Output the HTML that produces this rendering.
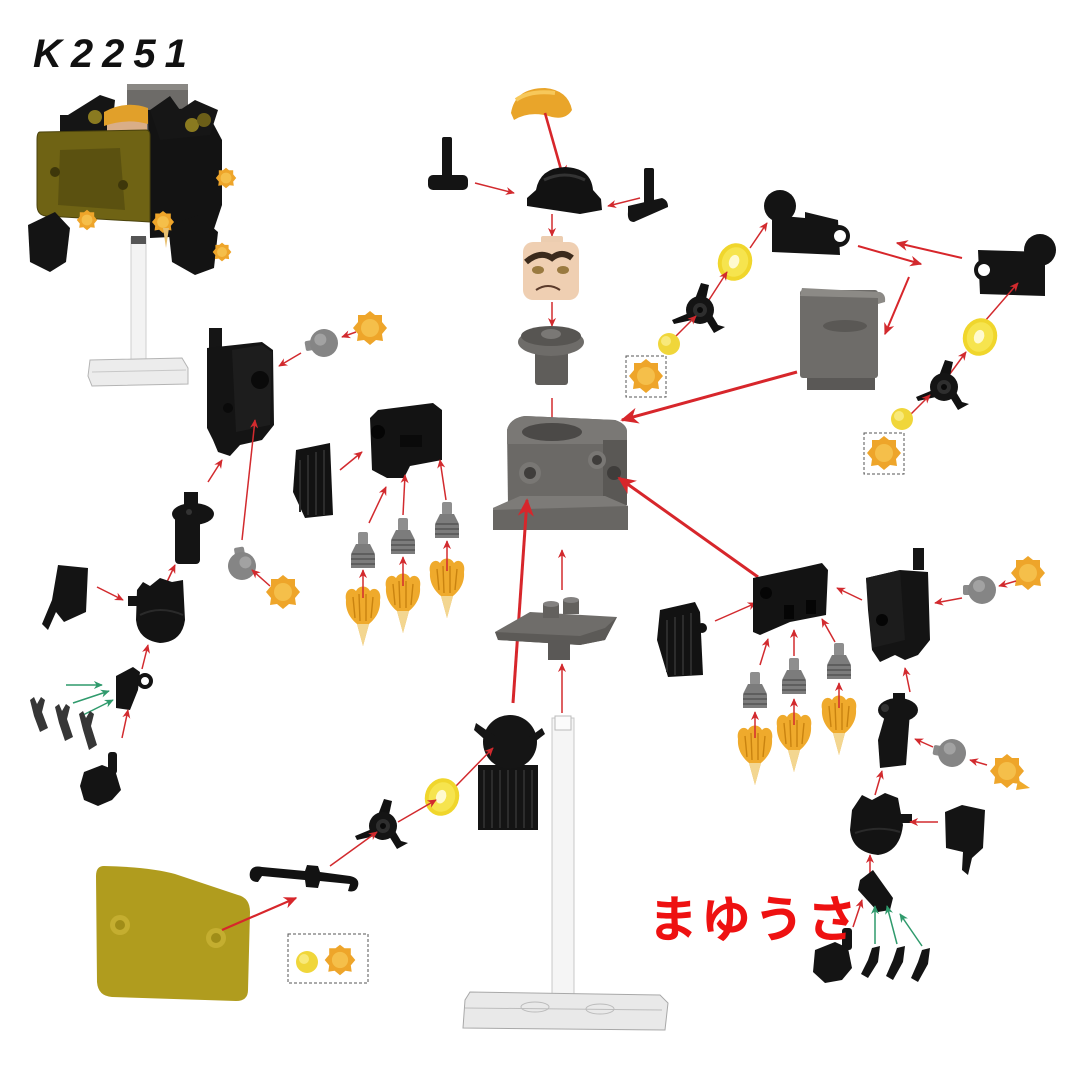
<!DOCTYPE html>
<html><head><meta charset="utf-8">
<style>
html,body{margin:0;padding:0;background:#fff;}
svg{display:block;}
</style></head><body>
<svg width="1080" height="1080" viewBox="0 0 1080 1080" xmlns="http://www.w3.org/2000/svg">
<defs>
 <marker id="ar" viewBox="0 0 10 10" refX="9" refY="5" markerWidth="6" markerHeight="6" orient="auto"><path d="M0,0.5 L10,5 L0,9.5 L3,5Z" fill="#d22a2e"/></marker>
 <marker id="arb" viewBox="0 0 10 10" refX="9" refY="5" markerWidth="6" markerHeight="6" orient="auto"><path d="M0,0.5 L10,5 L0,9.5 L3,5Z" fill="#d7262b"/></marker>
 <marker id="ag" viewBox="0 0 10 10" refX="9" refY="5" markerWidth="6" markerHeight="6" orient="auto"><path d="M0,0.5 L10,5 L0,9.5 L3,5Z" fill="#2f9a6c"/></marker>
 <g id="fl">
  <path d="M-17,12 C-19,2 -11,-2 -7,3 C-4,-3 4,-3 7,3 C11,-2 19,2 17,12 C18,24 11,32 6,36 L0,58 L-6,36 C-11,32 -18,24 -17,12Z" fill="#efaa2c"/>
  <path d="M-6,36 L0,58 L6,36Z" fill="#f3d690"/>
  <path d="M-10,9 L-8,30 M-4,6 L-3,33 M3,6 L3,33 M10,9 L8,30" stroke="#c98310" stroke-width="1.4" fill="none"/>
 </g>
 <g id="sf">
  <path d="M0,-17 L5,-13 L12,-13 L12,-6 L17,0 L12,6 L13,13 L6,12 L0,17 L-6,12 L-13,13 L-12,6 L-17,0 L-12,-6 L-12,-13 L-5,-13Z" fill="#eea52a"/>
  <circle r="9" fill="#f5bf4a"/>
 </g>
 <g id="nz">
  <rect x="-5" y="0" width="10" height="13" rx="2" fill="#8e8e8e"/>
  <path d="M-7,12 L7,12 L12,22 L12,36 L-12,36 L-12,22Z" fill="#7c7c7c"/>
  <path d="M-11,22 L11,22 M-12,27 L12,27 M-12,32 L12,32" stroke="#555" stroke-width="1.5"/>
 </g>
 <g id="kn">
  <rect x="-19" y="-5" width="10" height="10" rx="2" fill="#8a8a8a"/>
  <circle r="14" fill="#858585"/>
  <circle cx="-3" cy="-4" r="6" fill="#a2a2a2"/>
 </g>
 <g id="pr">
  <path d="M-5,-11 L1,-27 L9,-25 L6,-11Z" fill="#111"/>
  <path d="M-11,3 L-28,10 L-26,14 L-8,10Z" fill="#111"/>
  <path d="M6,10 L14,23 L25,17 L18,15 L12,5Z" fill="#111"/>
  <circle r="14" fill="#141414"/>
  <circle r="7" fill="#2e2e2e"/><circle r="3" fill="#0a0a0a"/>
 </g>
 <g id="yr">
  <ellipse rx="17" ry="19" fill="#f0d62c"/>
  <ellipse rx="13" ry="15" fill="#f6e44e"/>
  <ellipse cx="-1" rx="5" ry="7" fill="#fffad0"/>
 </g>
 <g id="yd"><circle r="11" fill="#f0d63a"/><circle cx="-3" cy="-3" r="5" fill="#f8e97a"/></g>
</defs>

<!-- Title -->
<text x="33" y="67" font-family="Liberation Sans, sans-serif" font-size="40" font-weight="bold" font-style="italic" letter-spacing="9" fill="#111">K2251</text>

<!-- ===== Assembled figure top-left ===== -->
<rect x="127" y="84" width="61" height="70" fill="#6d6b68"/>
<rect x="127" y="84" width="61" height="6" fill="#8a8884"/>
<path d="M148,110 L205,108 L222,140 L222,205 L212,235 L150,238 Z" fill="#131313"/>
<path d="M60,120 L100,95 L115,100 L112,130 L70,140Z" fill="#151515"/>
<rect x="60" y="115" width="8" height="20" fill="#151515"/>
<path d="M150,110 L170,96 L180,110 L195,100 L218,110 L210,135 L160,140Z" fill="#161616"/>
<circle cx="95" cy="117" r="7" fill="#8a7a20"/>
<circle cx="192" cy="125" r="7" fill="#8a7a20"/>
<circle cx="204" cy="120" r="7" fill="#6b5e18"/>
<!-- head -->
<rect x="107" y="110" width="40" height="44" rx="8" fill="#d9ae88"/>
<path d="M104,112 Q125,100 148,108 L148,124 Q126,118 104,126Z" fill="#e1a02a"/>
<circle cx="118" cy="134" r="2" fill="#222"/><circle cx="134" cy="134" r="2" fill="#222"/>
<!-- shield -->
<path d="M40,132 L146,130 Q150,130 150,136 L150,222 L46,216 Q37,215 37,205 L37,140 Q37,132 40,132Z" fill="#6f6314" stroke="#4a420c" stroke-width="1"/>
<path d="M60,150 L120,148 L125,210 L58,205Z" fill="#4f460e" opacity="0.6"/>
<circle cx="55" cy="172" r="5" fill="#3e370a"/><circle cx="123" cy="185" r="5" fill="#3e370a"/>
<!-- arms -->
<path d="M28,225 L55,212 L70,228 L66,262 L50,272 L30,262Z" fill="#141414"/>
<path d="M168,225 L198,215 L218,232 L214,268 L195,275 L172,262Z" fill="#131313"/>
<use href="#sf" transform="translate(226,178) scale(0.6)"/>
<use href="#sf" transform="translate(87,220) scale(0.6)"/>
<use href="#sf" transform="translate(163,222) scale(0.65)"/>
<use href="#sf" transform="translate(222,252) scale(0.55)"/>
<path d="M163,228 L166,248 L169,228Z" fill="#e8c070"/>
<!-- stand -->
<rect x="131" y="238" width="15" height="124" fill="#f3f3f3" stroke="#cfcfcf"/>
<rect x="131" y="236" width="15" height="8" fill="#555"/>
<path d="M90,360 L182,358 L188,368 L188,384 L92,386 L88,376Z" fill="#ececec" stroke="#b4b4b4"/>
<path d="M92,372 L186,370" stroke="#c8c8c8"/>

<!-- ===== Top center ===== -->
<path d="M511,113 Q515,88 545,88 Q568,90 572,110 Q566,120 552,117 Q530,110 514,120Z" fill="#e9a52a"/>
<path d="M516,100 Q530,90 555,93" stroke="#f7c85a" stroke-width="4" fill="none"/>
<line x1="545" y1="113" x2="564" y2="180" stroke="#d7262b" stroke-width="2.6" marker-end="url(#arb)"/>
<!-- helmet -->
<path d="M527,198 L536,190 Q540,168 565,167 Q591,168 593,190 L601,199 L602,210 L580,214 L540,208 L527,206Z" fill="#121212"/>
<path d="M544,180 Q565,170 585,180" stroke="#333" stroke-width="3" fill="none"/>
<!-- left gun -->
<rect x="442" y="137" width="10" height="40" rx="2" fill="#141414"/>
<rect x="428" y="175" width="40" height="15" rx="5" fill="#141414"/>
<line x1="475" y1="183" x2="514" y2="193" stroke="#d22a2e" stroke-width="1.5" marker-end="url(#ar)"/>
<!-- right gun -->
<rect x="644" y="168" width="10" height="36" rx="2" fill="#141414"/>
<path d="M628,206 L662,198 Q668,200 668,207 L634,222 Q627,222 628,212Z" fill="#141414"/>
<line x1="640" y1="198" x2="608" y2="206" stroke="#d22a2e" stroke-width="1.5" marker-end="url(#ar)"/>
<line x1="552" y1="214" x2="552" y2="236" stroke="#d22a2e" stroke-width="1.5" marker-end="url(#ar)"/>
<!-- head -->
<rect x="541" y="236" width="22" height="8" rx="2" fill="#eccdb0"/>
<rect x="523" y="242" width="56" height="58" rx="10" fill="#efcfb2"/>
<path d="M526,262 Q540,250 552,258 Q562,250 572,258" stroke="#3b2a1c" stroke-width="6" fill="none"/>
<ellipse cx="538" cy="270" rx="6" ry="4" fill="#9a7a40"/><ellipse cx="563" cy="270" rx="6" ry="4" fill="#9a7a40"/>
<path d="M536,290 Q548,282 560,290" stroke="#5a3a2a" stroke-width="2" fill="none"/>
<line x1="552" y1="302" x2="552" y2="326" stroke="#d22a2e" stroke-width="1.5" marker-end="url(#ar)"/>
<!-- neck bracket -->
<rect x="535" y="345" width="33" height="40" rx="3" fill="#5f5d5a"/>
<ellipse cx="551" cy="342" rx="33" ry="14" fill="#6e6c69"/>
<ellipse cx="551" cy="336" rx="30" ry="10" fill="#575552"/>
<ellipse cx="551" cy="334" rx="10" ry="5" fill="#7a7875"/>
<line x1="552" y1="398" x2="552" y2="427" stroke="#d22a2e" stroke-width="1.5" marker-end="url(#ar)"/>

<!-- toilet -->
<path d="M507,430 Q510,418 525,416 L615,420 Q627,424 627,432 L627,505 L508,505Z" fill="#6b6966"/>
<path d="M507,430 Q510,418 525,416 L615,420 Q627,424 627,432 L627,444 L507,444Z" fill="#7a7875"/>
<ellipse cx="552" cy="432" rx="30" ry="9" fill="#4b4947"/>
<rect x="603" y="440" width="24" height="65" fill="#5a5855"/>
<path d="M493,508 L520,496 L605,496 L628,506 L628,530 L493,530Z" fill="#686663"/>
<path d="M493,508 L520,496 L605,496 L628,506 L493,510Z" fill="#7d7b78"/>
<circle cx="530" cy="473" r="11" fill="#797774"/><circle cx="530" cy="473" r="6" fill="#3f3d3b"/>
<circle cx="597" cy="460" r="9" fill="#797774"/><circle cx="597" cy="460" r="5" fill="#3f3d3b"/>
<circle cx="614" cy="473" r="7" fill="#3f3d3b"/>
<line x1="797" y1="372" x2="622" y2="420" stroke="#d7262b" stroke-width="3" marker-end="url(#arb)"/>
<line x1="758" y1="577" x2="619" y2="478" stroke="#d7262b" stroke-width="3" marker-end="url(#arb)"/>
<line x1="513" y1="703" x2="527" y2="500" stroke="#d7262b" stroke-width="3" marker-end="url(#arb)"/>
<line x1="562" y1="590" x2="562" y2="550" stroke="#d22a2e" stroke-width="1.5" marker-end="url(#ar)"/>

<!-- plate -->
<path d="M495,632 L530,612 L617,617 L605,640 L580,645 L498,640Z" fill="#6f6d6a"/>
<path d="M495,632 L498,640 L580,645 L605,640 L617,617 L605,628 L580,636Z" fill="#5c5a57"/>
<rect x="548" y="640" width="22" height="20" fill="#5a5856"/>
<rect x="543" y="604" width="16" height="14" fill="#63615e"/><ellipse cx="551" cy="604" rx="8" ry="3" fill="#838180"/>
<rect x="563" y="600" width="16" height="14" fill="#63615e"/><ellipse cx="571" cy="600" rx="8" ry="3" fill="#838180"/>
<line x1="562" y1="713" x2="562" y2="664" stroke="#d22a2e" stroke-width="1.5" marker-end="url(#ar)"/>

<!-- stand center -->
<rect x="552" y="718" width="22" height="296" fill="#f5f5f5" stroke="#c8c8c8"/>
<rect x="555" y="716" width="16" height="14" fill="#fbfbfb" stroke="#bbb"/>
<path d="M465,1000 L470,992 L660,995 L668,1003 L665,1030 L463,1028Z" fill="#e9e9e9" stroke="#a8a8a8"/>
<path d="M465,1008 L662,1010" stroke="#bdbdbd"/>
<ellipse cx="535" cy="1007" rx="14" ry="5" fill="none" stroke="#bbb"/>
<ellipse cx="600" cy="1009" rx="14" ry="5" fill="none" stroke="#bbb"/>

<!-- back piece -->
<rect x="478" y="765" width="60" height="65" fill="#141414"/>
<path d="M484,770 L484,828 M492,770 L492,828 M500,770 L500,828 M508,770 L508,828 M516,770 L516,828 M524,770 L524,828 M532,770 L532,828" stroke="#2c2c2c" stroke-width="2"/>
<circle cx="510" cy="742" r="27" fill="#151515"/>
<path d="M476,723 L498,738 L492,746 L474,730Z" fill="#151515"/>
<path d="M528,738 L542,728 L545,734 L532,744Z" fill="#151515"/>
<line x1="456" y1="786" x2="493" y2="748" stroke="#d22a2e" stroke-width="1.5" marker-end="url(#ar)"/>
<use href="#yr" transform="translate(442,797) rotate(20)"/>
<line x1="398" y1="822" x2="436" y2="800" stroke="#d22a2e" stroke-width="1.5" marker-end="url(#ar)"/>
<use href="#pr" transform="translate(383,826)"/>
<line x1="330" y1="866" x2="377" y2="832" stroke="#d22a2e" stroke-width="1.5" marker-end="url(#ar)"/>
<!-- bar -->
<path d="M250,872 Q252,865 262,867 L305,871 L307,865 L318,866 L320,872 L350,876 Q360,878 358,886 Q356,893 348,891 L350,884 L320,881 L318,888 L306,887 L305,880 L262,876 L258,882 Q248,882 250,872Z" fill="#121212"/>
<!-- yellow shield -->
<path d="M104,866 Q96,866 96,876 L97,982 Q98,996 112,997 L236,1001 Q248,1001 248,990 L250,912 Q250,898 238,895 L175,874 Q150,867 104,866Z" fill="#b09c1e"/>
<circle cx="120" cy="925" r="10" fill="#c4ae30"/><circle cx="120" cy="925" r="5" fill="#a08d18"/>
<circle cx="216" cy="938" r="10" fill="#c4ae30"/><circle cx="216" cy="938" r="5" fill="#a08d18"/>
<line x1="222" y1="930" x2="296" y2="898" stroke="#d7262b" stroke-width="2.2" marker-end="url(#arb)"/>
<!-- dashed box -->
<rect x="288" y="934" width="80" height="49" fill="none" stroke="#555" stroke-width="1" stroke-dasharray="3,2"/>
<use href="#yd" transform="translate(307,962)"/>
<use href="#sf" transform="translate(340,960) scale(0.9)"/>

<!-- ===== Right top ===== -->
<circle cx="780" cy="206" r="16" fill="#141414"/>
<path d="M772,215 L805,218 L805,212 L838,220 L840,255 L772,252Z" fill="#141414"/>
<circle cx="839" cy="236" r="11" fill="#141414"/><circle cx="840" cy="236" r="6" fill="#fff"/>
<line x1="750" y1="248" x2="767" y2="223" stroke="#d22a2e" stroke-width="1.5" marker-end="url(#ar)"/>
<use href="#yr" transform="translate(735,262) rotate(20)"/>
<line x1="707" y1="303" x2="727" y2="272" stroke="#d22a2e" stroke-width="1.5" marker-end="url(#ar)"/>
<use href="#pr" transform="translate(700,310)"/>
<line x1="674" y1="338" x2="696" y2="316" stroke="#d22a2e" stroke-width="1.5" marker-end="url(#ar)"/>
<use href="#yd" transform="translate(669,344)"/>
<rect x="626" y="356" width="40" height="41" fill="none" stroke="#555" stroke-width="1" stroke-dasharray="3,2"/>
<use href="#sf" transform="translate(646,376)"/>
<line x1="858" y1="246" x2="921" y2="264" stroke="#d7262b" stroke-width="2" marker-end="url(#ar)"/>
<line x1="962" y1="258" x2="897" y2="243" stroke="#d7262b" stroke-width="2" marker-end="url(#ar)"/>
<line x1="909" y1="277" x2="885" y2="334" stroke="#d7262b" stroke-width="2" marker-end="url(#ar)"/>
<circle cx="1040" cy="250" r="16" fill="#141414"/>
<path d="M978,250 L1045,252 L1045,296 L980,294Z" fill="#141414"/>
<circle cx="985" cy="270" r="11" fill="#141414"/><circle cx="984" cy="270" r="6" fill="#fff"/>
<line x1="985" y1="321" x2="1018" y2="283" stroke="#d22a2e" stroke-width="1.5" marker-end="url(#ar)"/>
<use href="#yr" transform="translate(980,337) rotate(20)"/>
<line x1="944" y1="382" x2="966" y2="352" stroke="#d22a2e" stroke-width="1.5" marker-end="url(#ar)"/>
<use href="#pr" transform="translate(944,387)"/>
<line x1="907" y1="418" x2="930" y2="395" stroke="#d22a2e" stroke-width="1.5" marker-end="url(#ar)"/>
<use href="#yd" transform="translate(902,419)"/>
<rect x="864" y="433" width="40" height="41" fill="none" stroke="#555" stroke-width="1" stroke-dasharray="3,2"/>
<use href="#sf" transform="translate(884,453)"/>
<rect x="807" y="375" width="68" height="15" fill="#5a5856"/>
<rect x="800" y="290" width="78" height="88" rx="3" fill="#6e6c69"/>
<path d="M802,288 L880,292 Q886,294 885,302 L878,304 L878,298 L800,296Z" fill="#8c8a86"/>
<ellipse cx="845" cy="326" rx="22" ry="6" fill="#5a5855"/>

<!-- ===== Left arm ===== -->
<use href="#sf" transform="translate(370,328)"/>
<line x1="356" y1="332" x2="342" y2="337" stroke="#d22a2e" stroke-width="1.5" marker-end="url(#ar)"/>
<use href="#kn" transform="translate(324,343) rotate(-10)"/>
<line x1="301" y1="353" x2="279" y2="366" stroke="#d22a2e" stroke-width="1.5" marker-end="url(#ar)"/>
<rect x="209" y="328" width="13" height="24" fill="#151515"/>
<path d="M207,348 L235,345 L262,342 L273,350 L274,425 L262,440 L240,445 L230,456 L218,452 L213,440 L207,428Z" fill="#141414"/>
<path d="M232,350 L262,345 L272,352 L270,425 L236,432Z" fill="#1d1d1d"/>
<circle cx="260" cy="380" r="9" fill="#0a0a0a"/>
<circle cx="228" cy="408" r="5" fill="#0a0a0a"/>
<line x1="242" y1="540" x2="255" y2="420" stroke="#d22a2e" stroke-width="1.5" marker-end="url(#ar)"/>
<use href="#kn" transform="translate(242,566) rotate(80)"/>
<use href="#sf" transform="translate(283,592)"/>
<line x1="270" y1="586" x2="252" y2="570" stroke="#d22a2e" stroke-width="1.5" marker-end="url(#ar)"/>
<rect x="184" y="492" width="14" height="14" fill="#141414"/>
<ellipse cx="193" cy="514" rx="21" ry="11" fill="#141414"/>
<rect x="175" y="514" width="25" height="50" rx="4" fill="#141414"/>
<circle cx="189" cy="512" r="3" fill="#333"/>
<line x1="208" y1="482" x2="222" y2="460" stroke="#d22a2e" stroke-width="1.5" marker-end="url(#ar)"/>
<line x1="166" y1="584" x2="175" y2="565" stroke="#d22a2e" stroke-width="1.5" marker-end="url(#ar)"/>
<rect x="128" y="596" width="12" height="10" fill="#141414"/>
<path d="M137,590 L143,582 L150,586 L160,578 L172,582 L183,580 L185,620 Q182,642 160,643 Q138,640 136,620Z" fill="#131313"/>
<path d="M140,615 Q160,605 183,615" stroke="#2a2a2a" stroke-width="2" fill="none"/>
<path d="M58,565 L88,568 L86,612 L64,622 L56,612 L48,630 L42,624 L52,600Z" fill="#141414"/>
<line x1="97" y1="587" x2="123" y2="600" stroke="#d22a2e" stroke-width="1.5" marker-end="url(#ar)"/>
<line x1="142" y1="669" x2="148" y2="645" stroke="#d22a2e" stroke-width="1.5" marker-end="url(#ar)"/>
<path d="M116,676 L133,667 L140,672 L138,690 L130,710 L116,708Z" fill="#131313"/>
<circle cx="145" cy="681" r="6" fill="none" stroke="#131313" stroke-width="4"/>
<line x1="66" y1="685" x2="102" y2="685" stroke="#2f9a6c" stroke-width="1.5" marker-end="url(#ag)"/>
<line x1="73" y1="703" x2="109" y2="691" stroke="#2f9a6c" stroke-width="1.5" marker-end="url(#ag)"/>
<line x1="83" y1="715" x2="113" y2="700" stroke="#2f9a6c" stroke-width="1.5" marker-end="url(#ag)"/>
<g fill="#363636">
 <path d="M30,700 L34,697 L37,704 L41,697 L45,700 L42,712 L48,728 L40,732 L34,716Z"/>
 <path d="M55,707 L59,704 L62,711 L66,704 L70,707 L67,719 L73,737 L65,741 L59,723Z"/>
 <path d="M79,714 L83,711 L86,718 L90,711 L94,714 L91,726 L97,745 L89,750 L83,730Z"/>
</g>
<line x1="122" y1="738" x2="128" y2="710" stroke="#d22a2e" stroke-width="1.5" marker-end="url(#ar)"/>
<rect x="108" y="752" width="9" height="22" rx="3" fill="#141414"/>
<path d="M84,772 L102,765 L115,770 L121,790 L112,800 L98,806 L84,800 L80,786Z" fill="#141414"/>
<path d="M296,450 L330,443 L333,515 L305,518 L293,492Z" fill="#121212"/>
<path d="M300,460 L300,512 M308,455 L308,515 M316,452 L316,515 M324,450 L324,515" stroke="#2c2c2c" stroke-width="2"/>
<line x1="340" y1="470" x2="362" y2="452" stroke="#d22a2e" stroke-width="1.5" marker-end="url(#ar)"/>
<path d="M370,418 L378,410 L433,403 L442,410 L442,460 L410,466 L404,478 L387,478 L372,470Z" fill="#131313"/>
<circle cx="378" cy="432" r="7" fill="#050505"/>
<rect x="400" y="435" width="22" height="12" fill="#0a0a0a"/>
<use href="#nz" transform="translate(363,532)"/>
<use href="#nz" transform="translate(403,518)"/>
<use href="#nz" transform="translate(447,502)"/>
<line x1="369" y1="523" x2="386" y2="487" stroke="#d22a2e" stroke-width="1.5" marker-end="url(#ar)"/>
<line x1="403" y1="515" x2="405" y2="475" stroke="#d22a2e" stroke-width="1.5" marker-end="url(#ar)"/>
<line x1="446" y1="500" x2="440" y2="460" stroke="#d22a2e" stroke-width="1.5" marker-end="url(#ar)"/>
<use href="#fl" transform="translate(363,588)"/>
<use href="#fl" transform="translate(403,575)"/>
<use href="#fl" transform="translate(447,560)"/>
<line x1="363" y1="598" x2="363" y2="570" stroke="#d22a2e" stroke-width="1.5" marker-end="url(#ar)"/>
<line x1="403" y1="586" x2="403" y2="557" stroke="#d22a2e" stroke-width="1.5" marker-end="url(#ar)"/>
<line x1="447" y1="571" x2="447" y2="541" stroke="#d22a2e" stroke-width="1.5" marker-end="url(#ar)"/>

<!-- ===== Right arm ===== -->
<path d="M660,610 L695,602 L700,612 L703,675 L668,677 L657,640Z" fill="#121212"/>
<circle cx="702" cy="628" r="5" fill="#121212"/>
<path d="M667,620 L667,672 M675,617 L675,675 M683,615 L683,675 M691,613 L691,675" stroke="#2c2c2c" stroke-width="2"/>
<line x1="715" y1="621" x2="756" y2="603" stroke="#d22a2e" stroke-width="1.5" marker-end="url(#ar)"/>
<path d="M753,578 L800,568 L822,563 L828,570 L826,615 L790,622 L760,635 L753,632Z" fill="#131313"/>
<circle cx="766" cy="593" r="6" fill="#050505"/>
<rect x="784" y="605" width="10" height="14" fill="#050505"/><rect x="806" y="600" width="10" height="14" fill="#050505"/>
<use href="#nz" transform="translate(755,672)"/>
<use href="#nz" transform="translate(794,658)"/>
<use href="#nz" transform="translate(839,643)"/>
<line x1="760" y1="665" x2="768" y2="639" stroke="#d22a2e" stroke-width="1.5" marker-end="url(#ar)"/>
<line x1="794" y1="656" x2="794" y2="630" stroke="#d22a2e" stroke-width="1.5" marker-end="url(#ar)"/>
<line x1="835" y1="642" x2="822" y2="619" stroke="#d22a2e" stroke-width="1.5" marker-end="url(#ar)"/>
<use href="#fl" transform="translate(755,727)"/>
<use href="#fl" transform="translate(794,714)"/>
<use href="#fl" transform="translate(839,697)"/>
<line x1="755" y1="738" x2="755" y2="712" stroke="#d22a2e" stroke-width="1.5" marker-end="url(#ar)"/>
<line x1="794" y1="725" x2="794" y2="699" stroke="#d22a2e" stroke-width="1.5" marker-end="url(#ar)"/>
<line x1="839" y1="708" x2="839" y2="683" stroke="#d22a2e" stroke-width="1.5" marker-end="url(#ar)"/>
<line x1="862" y1="600" x2="837" y2="588" stroke="#d22a2e" stroke-width="1.5" marker-end="url(#ar)"/>
<rect x="913" y="548" width="11" height="22" fill="#151515"/>
<path d="M866,578 L900,570 L928,572 L930,640 L918,655 L905,660 L895,655 L880,662 L872,650 L868,610Z" fill="#141414"/>
<path d="M866,578 L900,570 L905,640 L872,648Z" fill="#1c1c1c"/>
<circle cx="882" cy="620" r="6" fill="#050505"/>
<use href="#kn" transform="translate(982,590)"/>
<use href="#sf" transform="translate(1028,573)"/>
<line x1="1016" y1="581" x2="999" y2="586" stroke="#d22a2e" stroke-width="1.5" marker-end="url(#ar)"/>
<line x1="962" y1="598" x2="935" y2="603" stroke="#d22a2e" stroke-width="1.5" marker-end="url(#ar)"/>
<line x1="910" y1="692" x2="905" y2="668" stroke="#d22a2e" stroke-width="1.5" marker-end="url(#ar)"/>
<ellipse cx="898" cy="710" rx="20" ry="12" fill="#141414"/>
<rect x="893" y="693" width="12" height="12" fill="#141414"/>
<path d="M886,712 L910,712 L906,765 L880,768 L878,740Z" fill="#141414"/>
<circle cx="885" cy="708" r="4" fill="#333"/>
<use href="#kn" transform="translate(952,753) rotate(10)"/>
<use href="#sf" transform="translate(1007,771)"/>
<path d="M1018,780 L1030,788 L1016,790Z" fill="#efaa2c"/>
<line x1="987" y1="765" x2="970" y2="760" stroke="#d22a2e" stroke-width="1.5" marker-end="url(#ar)"/>
<line x1="933" y1="747" x2="915" y2="739" stroke="#d22a2e" stroke-width="1.5" marker-end="url(#ar)"/>
<line x1="875" y1="795" x2="882" y2="771" stroke="#d22a2e" stroke-width="1.5" marker-end="url(#ar)"/>
<path d="M852,810 L862,795 L872,800 L885,793 L898,798 L903,825 Q900,852 878,855 Q852,852 850,830Z" fill="#131313"/>
<rect x="900" y="814" width="12" height="9" fill="#141414"/>
<path d="M855,833 Q878,825 900,832" stroke="#2a2a2a" stroke-width="2" fill="none"/>
<line x1="938" y1="822" x2="910" y2="822" stroke="#d22a2e" stroke-width="1.5" marker-end="url(#ar)"/>
<path d="M945,812 L962,805 L985,810 L983,848 L972,858 L968,875 L962,870 L963,852 L946,848Z" fill="#141414"/>
<line x1="870" y1="873" x2="870" y2="855" stroke="#d22a2e" stroke-width="1.5" marker-end="url(#ar)"/>
<path d="M860,880 L873,870 L893,898 L890,910 L878,912 L858,890Z" fill="#131313"/>
<line x1="853" y1="927" x2="862" y2="900" stroke="#d22a2e" stroke-width="1.5" marker-end="url(#ar)"/>
<line x1="875" y1="944" x2="875" y2="906" stroke="#2f9a6c" stroke-width="1.5" marker-end="url(#ag)"/>
<line x1="897" y1="944" x2="887" y2="906" stroke="#2f9a6c" stroke-width="1.5" marker-end="url(#ag)"/>
<line x1="922" y1="946" x2="900" y2="914" stroke="#2f9a6c" stroke-width="1.5" marker-end="url(#ag)"/>
<rect x="842" y="928" width="10" height="22" rx="3" fill="#141414"/>
<path d="M815,950 L835,942 L848,948 L852,968 L842,980 L825,983 L813,972Z" fill="#141414"/>
<g fill="#141414">
 <path d="M872,948 L880,946 L878,962 L868,978 L861,974 L868,960Z"/>
 <path d="M897,948 L905,946 L903,962 L893,980 L886,976 L893,960Z"/>
 <path d="M922,950 L930,948 L928,964 L918,982 L911,978 L918,962Z"/>
</g>

<!-- Watermark text -->
<text x="648" y="937" font-family="Liberation Sans, 'Noto Sans CJK JP', sans-serif" font-size="50" font-weight="bold" fill="#ee1111" letter-spacing="3">まゆうさ</text>
</svg>
</body></html>
